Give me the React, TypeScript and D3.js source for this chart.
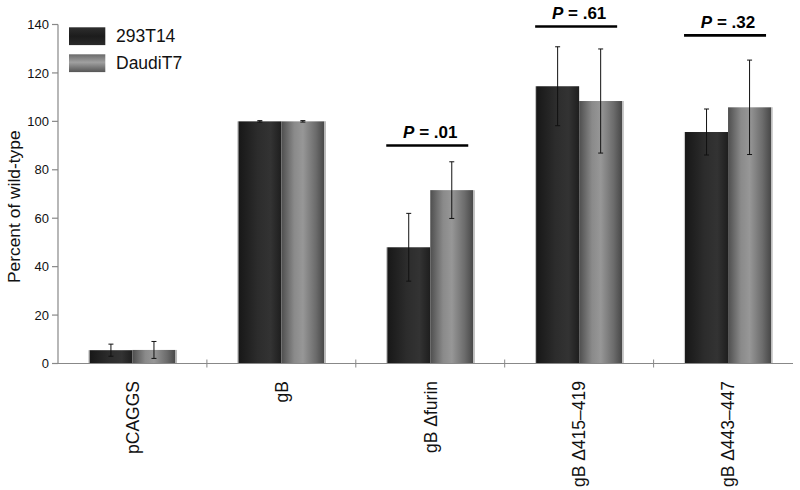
import React from "react";
import * as d3 from "d3";

const categories = ["pCAGGS", "gB", "gB \u0394furin", "gB \u0394415\u2013419", "gB \u0394443\u2013447"];
const seriesNames = ["293T14", "DaudiT7"];
const values293 = [5.5, 100, 48, 114.5, 95.6];
const valuesDaudi = [5.6, 100, 71.6, 108.4, 105.8];
const err293 = [2.5, 0.3, 14, 16.3, 9.5];
const errDaudi = [3.5, 0.3, 11.7, 21.5, 19.5];
const yTicks = [0, 20, 40, 60, 80, 100, 120, 140];
const pCategories = ["gB \u0394furin", "gB \u0394415\u2013419", "gB \u0394443\u2013447"];
const pLabels = [".01", ".61", ".32"];
const pLevels = [90, 139.2, 135.5];

const W = 800;
const H = 490;
const FONT = "'Liberation Sans', Arial, Helvetica, sans-serif";

export default function App() {
  const x = d3.scaleBand<string>().domain(categories).range([58, 802.5]).paddingInner(0).paddingOuter(0);
  const xs = d3.scaleBand<string>().domain(seriesNames).range([0, x.bandwidth()]).paddingInner(0).paddingOuter(0.73);
  const y = d3.scaleLinear().domain([0, 140]).range([363.5, 24.5]);

  const seriesVals = [values293, valuesDaudi];
  const seriesErr = [err293, errDaudi];
  const fills = ["url(#gDark)", "url(#gLight)"];

  const boundaries = categories.slice(1).map((c) => x(c)!);

  return (
    <svg width={W} height={H} style={{ position: "absolute", left: 0, top: 0, background: "#fff" }} fontFamily={FONT}>
      <defs>
        <linearGradient id="gDark" x1="0" x2="1" y1="0" y2="0">
          <stop offset="0%" stopColor="#171717" />
          <stop offset="45%" stopColor="#2c2c2c" />
          <stop offset="75%" stopColor="#333333" />
          <stop offset="100%" stopColor="#1e1e1e" />
        </linearGradient>
        <linearGradient id="gLight" x1="0" x2="1" y1="0" y2="0">
          <stop offset="0%" stopColor="#4e4e4e" />
          <stop offset="30%" stopColor="#8a8a8a" />
          <stop offset="50%" stopColor="#979797" />
          <stop offset="80%" stopColor="#6c6c6c" />
          <stop offset="100%" stopColor="#474747" />
        </linearGradient>
        <linearGradient id="lDark" x1="0" x2="0" y1="0" y2="1">
          <stop offset="0%" stopColor="#2e2e2e" />
          <stop offset="50%" stopColor="#1c1c1c" />
          <stop offset="100%" stopColor="#2a2a2a" />
        </linearGradient>
        <linearGradient id="lLight" x1="0" x2="0" y1="0" y2="1">
          <stop offset="0%" stopColor="#6a6a6a" />
          <stop offset="45%" stopColor="#a0a0a0" />
          <stop offset="100%" stopColor="#555555" />
        </linearGradient>
      </defs>

      {/* bars */}
      {categories.map((c, i) => (
        <g key={c} transform={`translate(${x(c)},0)`}>
          {seriesNames.map((s, k) => {
            const v = seriesVals[k][i];
            const bx = xs(s)!;
            return (
              <g key={s}>
                <rect x={bx} y={y(v)} width={xs.bandwidth()} height={y(0) - y(v)} fill={fills[k]} />
                {k === 1 && (
                  <line x1={bx + xs.bandwidth() + 0.8} x2={bx + xs.bandwidth() + 0.8} y1={y(v)} y2={y(0)} stroke="#b8b8b8" strokeWidth={1.5} />
                )}
                {k === 0 && (
                  <line x1={bx - 0.6} x2={bx - 0.6} y1={y(v)} y2={y(0)} stroke="#c4c4c4" strokeWidth={1} />
                )}
              </g>
            );
          })}
        </g>
      ))}

      {/* error bars */}
      {categories.map((c, i) => (
        <g key={"e" + c} transform={`translate(${x(c)},0)`}>
          {seriesNames.map((s, k) => {
            const v = seriesVals[k][i];
            const e = seriesErr[k][i];
            const cx = xs(s)! + xs.bandwidth() / 2;
            return (
              <g key={s} stroke="#111" strokeWidth={1}>
                <line x1={cx} x2={cx} y1={y(v + e)} y2={y(v - e)} />
                <line x1={cx - 2.5} x2={cx + 2.5} y1={y(v + e)} y2={y(v + e)} />
                <line x1={cx - 2.5} x2={cx + 2.5} y1={y(v - e)} y2={y(v - e)} />
              </g>
            );
          })}
        </g>
      ))}

      {/* y axis */}
      <line x1={58} x2={58} y1={y(140)} y2={y(0)} stroke="#888" strokeWidth={1.2} />
      {yTicks.map((t) => (
        <g key={t}>
          <line x1={52} x2={58} y1={y(t)} y2={y(t)} stroke="#888" strokeWidth={1.2} />
          <text x={49} y={y(t)} dy="0.36em" textAnchor="end" fontSize={13} fill="#111">
            {t}
          </text>
        </g>
      ))}
      <text transform={`translate(20,${206.7}) rotate(-90)`} textAnchor="middle" fontSize={17.4} fill="#111">
        Percent of wild-type
      </text>

      {/* x axis */}
      <line x1={58} x2={793} y1={y(0)} y2={y(0)} stroke="#888" strokeWidth={1.2} />
      {boundaries.map((b, i) => (
        <line key={i} x1={b} x2={b} y1={y(0) - 4} y2={y(0) + 4} stroke="#888" strokeWidth={1} />
      ))}
      {categories.map((c) => (
        <text
          key={"l" + c}
          transform={`translate(${x(c)! + x.bandwidth() / 2},381) rotate(-90)`}
          dy="0.36em"
          textAnchor="end"
          fontSize={17.5}
          fill="#111"
        >
          {c}
        </text>
      ))}

      {/* p-value annotations */}
      {pCategories.map((c, i) => {
        const cx = x(c)! + x.bandwidth() / 2;
        const ly = y(pLevels[i]);
        return (
          <g key={"p" + c}>
            <line x1={cx - 44} x2={cx + 38} y1={ly} y2={ly} stroke="#000" strokeWidth={2.6} />
            <text x={cx} y={ly - 7.5} textAnchor="middle" fontSize={17} fontWeight="bold" fill="#000">
              <tspan fontStyle="italic">P</tspan>
              {" = " + pLabels[i]}
            </text>
          </g>
        );
      })}

      {/* legend */}
      {seriesNames.map((s, k) => (
        <g key={"lg" + s} transform={`translate(69,${27.3 + k * 27})`}>
          <rect x={0} y={0} width={36.3} height={17.8} fill={k === 0 ? "url(#lDark)" : "url(#lLight)"} />
          <text x={47} y={14.4} fontSize={17.5} fill="#111">
            {s}
          </text>
        </g>
      ))}
    </svg>
  );
}
